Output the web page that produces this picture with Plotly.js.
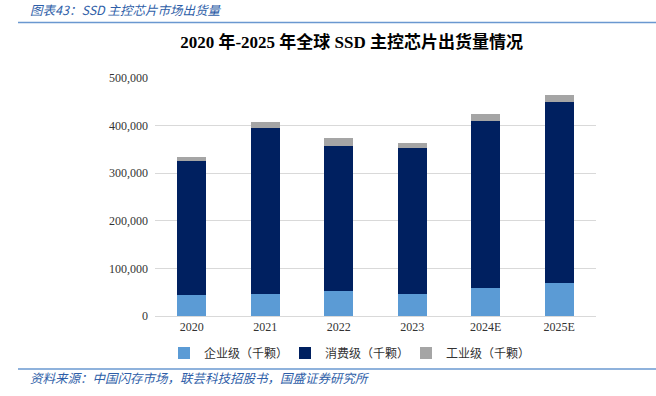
<!DOCTYPE html>
<html>
<head>
<meta charset="utf-8">
<script src="https://cdn.plot.ly/plotly-3.0.1.min.js"></script>
<style>html,body{margin:0;padding:0;background:#fff;}#chart{width:656px;height:396px;}</style>
</head>
<body>
<div id="chart"></div>
<script>
const categories = ['2020', '2021', '2022', '2023', '2024E', '2025E'];
const enterprise = [44000, 46000, 52000, 47000, 59000, 69000];
const consumer = [281000, 350000, 306000, 306000, 350000, 380000];
const industrial = [10000, 12000, 15000, 10000, 15000, 15000];
const seriesNames = ['企业级（千颗）', '消费级（千颗）', '工业级（千颗）'];
const yTicks = [0, 100000, 200000, 300000, 400000, 500000];
const yTickText = ['0', '100,000', '200,000', '300,000', '400,000', '500,000'];

const serif = '"Liberation Serif", "Times New Roman", "Noto Sans CJK SC", serif';
const cjk = '"Noto Sans CJK SC", sans-serif';
const blue = '#2E5EA8';

const traces = [
  {type: 'bar', name: seriesNames[0], x: categories, y: enterprise, marker: {color: '#5B9BD5'}, width: 0.4},
  {type: 'bar', name: seriesNames[1], x: categories, y: consumer, marker: {color: '#002060'}, width: 0.4},
  {type: 'bar', name: seriesNames[2], x: categories, y: industrial, marker: {color: '#A5A5A5'}, width: 0.4}
];

const layout = {
  width: 656, height: 396,
  margin: {l: 155, r: 60, t: 78, b: 80},
  barmode: 'stack',
  paper_bgcolor: '#fff', plot_bgcolor: '#fff',
  title: {text: '<b>2020 年-2025 年全球 SSD 主控芯片出货量情况</b>', font: {family: serif, size: 17, color: '#000'}, x: 0.536, xanchor: 'center', y: 0.894, yanchor: 'middle'},
  xaxis: {type: 'category', tickfont: {family: serif, size: 12, color: '#333'}, showline: true, linecolor: '#d9d9d9', ticks: '', showgrid: false, range: [-0.5, 5.5]},
  yaxis: {range: [0, 500000], tickvals: yTicks, ticktext: yTickText, tickfont: {family: serif, size: 12, color: '#333'}, showgrid: true, gridcolor: '#d9d9d9', zeroline: false, ticks: '', ticklabelstandoff: 6},
  legend: {orientation: 'h', x: (164-155)/441, xanchor: 'left', y: (316-353)/238, yanchor: 'middle', font: {family: cjk, size: 12, color: '#333'}, itemwidth: 30, entrywidth: 76, traceorder: 'normal'},
  showlegend: true,
  annotations: [
    {xref: 'paper', yref: 'paper', x: (28-155)/441, y: (316-10)/238, xanchor: 'left', yanchor: 'middle', text: '<i>图表43：SSD 主控芯片市场出货量</i>', showarrow: false, font: {family: cjk, size: 12.5, color: blue}},
    {xref: 'paper', yref: 'paper', x: (28-155)/441, y: (316-377)/238, xanchor: 'left', yanchor: 'middle', text: '<i>资料来源：中国闪存市场，联芸科技招股书，国盛证券研究所</i>', showarrow: false, font: {family: cjk, size: 12.5, color: blue}}
  ],
  shapes: [
    {type: 'line', xref: 'paper', yref: 'paper', x0: (18-155)/441, x1: (656-155)/441, y0: (316-22.5)/238, y1: (316-22.5)/238, line: {color: '#6A98D0', width: 1.5}},
    {type: 'line', xref: 'paper', yref: 'paper', x0: (18-155)/441, x1: (656-155)/441, y0: (316-369)/238, y1: (316-369)/238, line: {color: '#6A98D0', width: 1.5}}
  ]
};

Plotly.newPlot('chart', traces, layout, {staticPlot: true, displayModeBar: false});
</script>
</body>
</html>
